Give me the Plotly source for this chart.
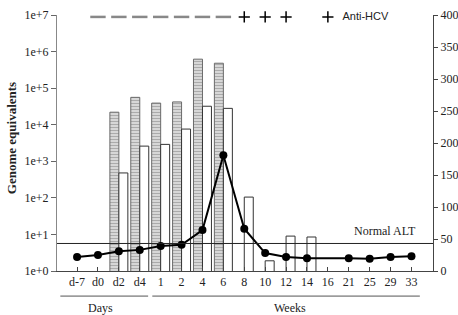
import plotly.graph_objects as go

categories = ["d-7", "d0", "d2", "d4", "1", "2", "4", "6", "8", "10", "12", "14", "16", "21", "25", "29", "33"]
shaded_vals = [None, None, 2.2e4, 5.6e4, 3.9e4, 4.2e4, 6.2e5, 4.8e5, None, None, None, None, None, None, None, None, None]
white_vals = [None, None, 480, 2600, 2900, 7600, 3.2e4, 2.8e4, 105, 1.9, 9, 8.5, None, None, None, None, None]
alt_vals = [22, 25, 31, 33, 39, 41, 64, 181, 66, 28, 22, 20, None, 20, 19, 22, 23]
anti_hcv = ["", "-", "-", "-", "-", "-", "-", "-", "+", "+", "+", "", "", "", "", "", ""]
NORMAL_ALT = 43
left_ticks = [1, 10, 100, 1e3, 1e4, 1e5, 1e6, 1e7]
left_ticktext = ["1e+0", "1e+1", "1e+2", "1e+3", "1e+4", "1e+5", "1e+6", "1e+7"]
right_ticks = [0, 50, 100, 150, 200, 250, 300, 350, 400]

SERIF = "Liberation Serif, Times New Roman, serif"
SANS = "Liberation Sans, Arial, sans-serif"

fig = go.Figure()
fig.add_trace(go.Bar(
    x=categories, y=shaded_vals, yaxis="y",
    marker=dict(color="#d0d0d0", line=dict(color="#6a6a6a", width=1),
                pattern=dict(shape="-", size=3, solidity=0.4, fgcolor="#7a7a7a", bgcolor="#dcdcdc")),
    showlegend=False))
fig.add_trace(go.Bar(
    x=categories, y=white_vals, yaxis="y",
    marker=dict(color="white", line=dict(color="#333", width=1)),
    showlegend=False))
fig.add_trace(go.Scatter(
    x=categories, y=alt_vals, yaxis="y2", mode="lines+markers", connectgaps=True,
    line=dict(color="black", width=2), marker=dict(color="black", size=8),
    showlegend=False, cliponaxis=False))

dash_x = [c for c, s in zip(categories, anti_hcv) if s == "-"]
plus_x = [c for c, s in zip(categories, anti_hcv) if s == "+"]
fig.add_trace(go.Scatter(
    x=dash_x, y=[397] * len(dash_x), yaxis="y2", mode="markers",
    marker=dict(symbol="line-ew", size=11, line=dict(color="#888", width=2.5)),
    showlegend=False, cliponaxis=False))
fig.add_trace(go.Scatter(
    x=plus_x, y=[397] * len(plus_x), yaxis="y2", mode="markers",
    marker=dict(symbol="cross-thin", size=8, line=dict(color="black", width=1.5)),
    showlegend=False, cliponaxis=False))
fig.add_trace(go.Scatter(
    x=["16"], y=[397], yaxis="y2", mode="markers+text", text=["   Anti-HCV"],
    textposition="middle right", textfont=dict(family=SANS, size=11, color="#222"),
    marker=dict(symbol="cross-thin", size=8, line=dict(color="black", width=1.5)),
    showlegend=False, cliponaxis=False))

fig.update_layout(
    width=458, height=315,
    margin=dict(l=57, r=25, t=15, b=44, autoexpand=False),
    paper_bgcolor="white", plot_bgcolor="white",
    barmode="group", bargap=0.14, bargroupgap=0,
    font=dict(family=SERIF, size=12, color="#222"),
    xaxis=dict(type="category", categoryorder="array", categoryarray=categories,
               range=[-0.96, 17.03], showline=True, linecolor="#444", linewidth=1,
               ticks="inside", ticklen=4, tickcolor="#444", showgrid=False, automargin=False,
               tickfont=dict(family=SERIF, size=12, color="#222")),
    yaxis=dict(type="log", range=[0, 7], tickvals=left_ticks, ticktext=left_ticktext,
               showline=True, linecolor="#888", linewidth=1, ticks="outside", ticklen=5,
               tickcolor="#666", showgrid=False, zeroline=False, automargin=False,
               tickfont=dict(family=SERIF, size=12, color="#222")),
    yaxis2=dict(overlaying="y", side="right", range=[0, 400], tickvals=right_ticks,
                showline=True, linecolor="#444", linewidth=1, ticks="outside", ticklen=4,
                tickcolor="#444", showgrid=False, zeroline=False, automargin=False,
                tickfont=dict(family=SERIF, size=12, color="#222")),
)

fig.add_annotation(text="<b>Genome equivalents</b>", xref="paper", x=-0.119, xanchor="center",
                   yref="paper", y=0.52, yanchor="middle", textangle=-90, showarrow=False,
                   font=dict(family=SERIF, size=13, color="#222"))

fig.add_shape(type="line", xref="paper", x0=0, x1=1, yref="y2", y0=NORMAL_ALT, y1=NORMAL_ALT,
              line=dict(color="#222", width=1))
fig.add_annotation(text="Normal ALT", xref="x", x=16.3, xanchor="right", yref="y2", y=NORMAL_ALT + 19,
                   yanchor="middle", showarrow=False, font=dict(family=SERIF, size=12, color="#222"))

fig.add_shape(type="line", xref="x", x0=-0.8, x1=3.4, yref="paper", y0=-0.098, y1=-0.098,
              line=dict(color="#555", width=1))
fig.add_shape(type="line", xref="x", x0=3.6, x1=16.4, yref="paper", y0=-0.098, y1=-0.098,
              line=dict(color="#555", width=1))
fig.add_annotation(text="Days", xref="x", x=1.1, yref="paper", y=-0.145, yanchor="middle",
                   showarrow=False, font=dict(family=SERIF, size=12, color="#222"))
fig.add_annotation(text="Weeks", xref="x", x=10.2, yref="paper", y=-0.145, yanchor="middle",
                   showarrow=False, font=dict(family=SERIF, size=12, color="#222"))

fig.write_html("out.html")
